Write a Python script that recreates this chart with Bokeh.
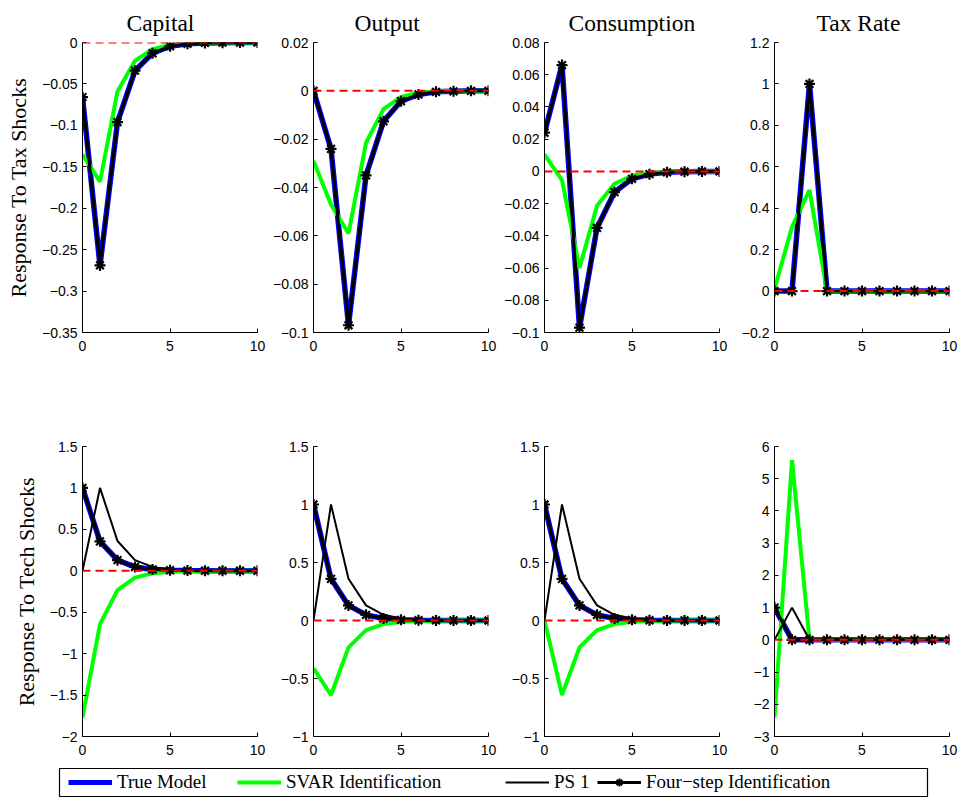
from bokeh.plotting import figure
from bokeh.layouts import column, row
from bokeh.models import FixedTicker, Legend, LegendItem, Range1d, Span
from bokeh.embed import file_html
from bokeh.resources import INLINE

# ---------------- data ----------------
steps = [0, 1, 2, 3, 4, 5, 6, 7, 8, 9, 10]
titles = ["Capital", "Output", "Consumption", "Tax Rate"]
row_labels = ["Response To Tax Shocks", "Response To Tech Shocks"]
legend_labels = ["True Model", "SVAR Identification", "PS 1", "Four\u2212step Identification"]

# Response to tax shocks
tax_capital_true = [-0.066, -0.269, -0.096, -0.034, -0.013, -0.0045, -0.0015, -0.0005, -0.0002, -0.0001, 0.0]
tax_capital_svar = [-0.135, -0.168, -0.059, -0.022, -0.008, -0.003, -0.001, -0.0004, -0.0001, 0.0, 0.0]
tax_capital_ps1 = [-0.066, -0.269, -0.096, -0.034, -0.013, -0.0045, -0.0015, -0.0005, -0.0002, -0.0001, 0.0]
tax_capital_four = [-0.066, -0.269, -0.096, -0.034, -0.013, -0.0045, -0.0015, -0.0005, -0.0002, -0.0001, 0.0]

tax_output_true = [0.0, -0.024, -0.097, -0.035, -0.0126, -0.0043, -0.0015, -0.0004, -0.0002, 0.0, 0.0]
tax_output_svar = [-0.029, -0.047, -0.059, -0.0215, -0.0076, -0.0025, -0.0008, -0.0003, -0.0001, 0.0, 0.0]
tax_output_ps1 = [0.0, -0.024, -0.097, -0.035, -0.0126, -0.0043, -0.0015, -0.0004, -0.0002, 0.0, 0.0]
tax_output_four = [0.0, -0.024, -0.097, -0.035, -0.0126, -0.0043, -0.0015, -0.0004, -0.0002, 0.0, 0.0]

tax_cons_true = [0.024, 0.066, -0.097, -0.035, -0.0129, -0.0046, -0.0017, -0.0006, -0.0002, 0.0, 0.0]
tax_cons_svar = [0.0105, -0.0054, -0.060, -0.0214, -0.0077, -0.0027, -0.001, -0.0003, -0.0001, 0.0, 0.0]
tax_cons_ps1 = [0.024, 0.066, -0.097, -0.035, -0.0129, -0.0046, -0.0017, -0.0006, -0.0002, 0.0, 0.0]
tax_cons_four = [0.024, 0.066, -0.097, -0.035, -0.0129, -0.0046, -0.0017, -0.0006, -0.0002, 0.0, 0.0]

tax_rate_true = [0.0, 0.0, 1.0, 0.0, 0.0, 0.0, 0.0, 0.0, 0.0, 0.0, 0.0]
tax_rate_svar = [0.01, 0.31, 0.487, 0.0, 0.0, 0.0, 0.0, 0.0, 0.0, 0.0, 0.0]
tax_rate_ps1 = [0.0, 0.0, 1.0, 0.0, 0.0, 0.0, 0.0, 0.0, 0.0, 0.0, 0.0]
tax_rate_four = [0.0, 0.0, 1.0, 0.0, 0.0, 0.0, 0.0, 0.0, 0.0, 0.0, 0.0]

# Response to tech shocks
tech_capital_true = [1.0, 0.355, 0.128, 0.046, 0.016, 0.006, 0.002, 0.0007, 0.0003, 0.0001, 0.0]
tech_capital_svar = [-1.768, -0.644, -0.234, -0.082, -0.03, -0.011, -0.004, -0.0015, -0.0005, -0.0002, 0.0]
tech_capital_ps1 = [0.0, 1.0, 0.36, 0.128, 0.047, 0.017, 0.006, 0.002, 0.0007, 0.0003, 0.0001]
tech_capital_four = [1.0, 0.355, 0.128, 0.046, 0.016, 0.006, 0.002, 0.0007, 0.0003, 0.0001, 0.0]

tech_output_true = [1.0, 0.359, 0.13, 0.049, 0.017, 0.006, 0.002, 0.0007, 0.0003, 0.0001, 0.0]
tech_output_svar = [-0.412, -0.642, -0.232, -0.083, -0.031, -0.011, -0.004, -0.0015, -0.0005, -0.0002, 0.0]
tech_output_ps1 = [0.0, 1.0, 0.36, 0.13, 0.049, 0.017, 0.006, 0.002, 0.0007, 0.0003, 0.0001]
tech_output_four = [1.0, 0.359, 0.13, 0.049, 0.017, 0.006, 0.002, 0.0007, 0.0003, 0.0001, 0.0]

tech_cons_true = [1.0, 0.359, 0.13, 0.049, 0.017, 0.006, 0.002, 0.0007, 0.0003, 0.0001, 0.0]
tech_cons_svar = [0.0, -0.642, -0.232, -0.083, -0.031, -0.011, -0.004, -0.0015, -0.0005, -0.0002, 0.0]
tech_cons_ps1 = [0.0, 1.0, 0.36, 0.13, 0.049, 0.017, 0.006, 0.002, 0.0007, 0.0003, 0.0001]
tech_cons_four = [1.0, 0.359, 0.13, 0.049, 0.017, 0.006, 0.002, 0.0007, 0.0003, 0.0001, 0.0]

tech_rate_true = [1.0, 0.0, 0.0, 0.0, 0.0, 0.0, 0.0, 0.0, 0.0, 0.0, 0.0]
tech_rate_svar = [-2.41, 5.58, 0.0, 0.0, 0.0, 0.0, 0.0, 0.0, 0.0, 0.0, 0.0]
tech_rate_ps1 = [0.0, 1.0, 0.0, 0.0, 0.0, 0.0, 0.0, 0.0, 0.0, 0.0, 0.0]
tech_rate_four = [1.0, 0.0, 0.0, 0.0, 0.0, 0.0, 0.0, 0.0, 0.0, 0.0, 0.0]

# y tick values and labels per panel
yt_tax_capital = [-0.35, -0.3, -0.25, -0.2, -0.15, -0.1, -0.05, 0.0]
yl_tax_capital = ["\u22120.35", "\u22120.3", "\u22120.25", "\u22120.2", "\u22120.15", "\u22120.1", "\u22120.05", "0"]
yt_tax_output = [-0.1, -0.08, -0.06, -0.04, -0.02, 0.0, 0.02]
yl_tax_output = ["\u22120.1", "\u22120.08", "\u22120.06", "\u22120.04", "\u22120.02", "0", "0.02"]
yt_tax_cons = [-0.1, -0.08, -0.06, -0.04, -0.02, 0.0, 0.02, 0.04, 0.06, 0.08]
yl_tax_cons = ["\u22120.1", "\u22120.08", "\u22120.06", "\u22120.04", "\u22120.02", "0", "0.02", "0.04", "0.06", "0.08"]
yt_tax_rate = [-0.2, 0.0, 0.2, 0.4, 0.6, 0.8, 1.0, 1.2]
yl_tax_rate = ["\u22120.2", "0", "0.2", "0.4", "0.6", "0.8", "1", "1.2"]
yt_tech_capital = [-2.0, -1.5, -1.0, -0.5, 0.0, 0.5, 1.0, 1.5]
yl_tech_capital = ["\u22122", "\u22121.5", "\u22121", "\u22120.5", "0", "0.5", "1", "1.5"]
yt_tech_output = [-1.0, -0.5, 0.0, 0.5, 1.0, 1.5]
yl_tech_output = ["\u22121", "\u22120.5", "0", "0.5", "1", "1.5"]
yt_tech_cons = [-1.0, -0.5, 0.0, 0.5, 1.0, 1.5]
yl_tech_cons = ["\u22121", "\u22120.5", "0", "0.5", "1", "1.5"]
yt_tech_rate = [-3.0, -2.0, -1.0, 0.0, 1.0, 2.0, 3.0, 4.0, 5.0, 6.0]
yl_tech_rate = ["\u22123", "\u22122", "\u22121", "0", "1", "2", "3", "4", "5", "6"]
xt = [0, 5, 10]

panels = [
    [
        (tax_capital_true, tax_capital_svar, tax_capital_ps1, tax_capital_four, yt_tax_capital, yl_tax_capital),
        (tax_output_true, tax_output_svar, tax_output_ps1, tax_output_four, yt_tax_output, yl_tax_output),
        (tax_cons_true, tax_cons_svar, tax_cons_ps1, tax_cons_four, yt_tax_cons, yl_tax_cons),
        (tax_rate_true, tax_rate_svar, tax_rate_ps1, tax_rate_four, yt_tax_rate, yl_tax_rate),
    ],
    [
        (tech_capital_true, tech_capital_svar, tech_capital_ps1, tech_capital_four, yt_tech_capital, yl_tech_capital),
        (tech_output_true, tech_output_svar, tech_output_ps1, tech_output_four, yt_tech_output, yl_tech_output),
        (tech_cons_true, tech_cons_svar, tech_cons_ps1, tech_cons_four, yt_tech_cons, yl_tech_cons),
        (tech_rate_true, tech_rate_svar, tech_rate_ps1, tech_rate_four, yt_tech_rate, yl_tech_rate),
    ],
]

# ---------------- style ----------------
BLUE = "#0000ff"
GREEN = "#00ff00"
SERIF = "Liberation Serif"
SANS = "Liberation Sans"
FW, FH = 175, 290
LEFT_B = [82, 46, 46, 46]
RIGHT_B = [10, 10, 9, 8]
TITLE_OFFSET = [44, 41, 24, 42]


def make_panel(r, c, data):
    true_v, svar_v, ps1_v, four_v, yt, yl = data
    kw = dict(
        frame_width=FW, frame_height=FH,
        min_border_left=LEFT_B[c], min_border_right=RIGHT_B[c],
        min_border_top=42 if r == 0 else 84,
        min_border_bottom=30 if r == 0 else 28,
        x_range=Range1d(0, 10), y_range=Range1d(yt[0], yt[-1]),
        output_backend="svg", toolbar_location=None,
    )
    if r == 0:
        kw["title"] = titles[c]
    p = figure(**kw)
    p.background_fill_color = "white"
    p.border_fill_color = "white"
    p.outline_line_color = None
    p.grid.visible = False
    if r == 0:
        p.title.text_font = SERIF
        p.title.text_font_size = "23.5px"
        p.title.text_font_style = "normal"
        p.title.align = "left"
        p.title.offset = TITLE_OFFSET[c]
        p.title.text_color = "black"
        p.title.standoff = 14

    p.xaxis.ticker = FixedTicker(ticks=xt)
    p.yaxis.ticker = FixedTicker(ticks=yt)
    p.yaxis.major_label_overrides = {t: lab for t, lab in zip(yt, yl)}
    for ax in (p.xaxis, p.yaxis):
        ax.axis_line_color = "black"
        ax.major_tick_line_color = "black"
        ax.major_tick_in = 4
        ax.major_tick_out = 0
        ax.minor_tick_line_color = None
        ax.major_label_text_font = SANS
        ax.major_label_text_font_size = "14px"
        ax.major_label_text_color = "black"
    p.yaxis.major_label_standoff = 5
    p.xaxis.major_label_standoff = 8
    if c == 0:
        p.yaxis.axis_label = row_labels[r]
        p.yaxis.axis_label_text_font = SERIF
        p.yaxis.axis_label_text_font_size = "22px"
        p.yaxis.axis_label_text_font_style = "normal"
        p.yaxis.axis_label_text_color = "black"
        p.yaxis.axis_label_standoff = 8

    p.line(steps, true_v, line_color=BLUE, line_width=5.5)
    p.line(steps, svar_v, line_color=GREEN, line_width=4)
    p.line(steps, ps1_v, line_color="black", line_width=2)
    p.line(steps, four_v, line_color="black", line_width=3)
    p.scatter(steps, four_v, marker="asterisk", size=11, line_color="black", line_width=2.2)
    p.add_layout(Span(location=0, dimension="width", line_color="red", line_width=2, line_dash="8 5"))
    return p


rows = []
for r in range(2):
    rows.append(row(*[make_panel(r, c, panels[r][c]) for c in range(4)], spacing=0))

# ---------------- legend ----------------
leg = figure(frame_width=868, frame_height=29, min_border_left=59, min_border_right=30,
             min_border_top=4, min_border_bottom=0,
             x_range=Range1d(0, 1), y_range=Range1d(0, 1),
             x_axis_type=None, y_axis_type=None,
             output_backend="svg", toolbar_location=None)
leg.grid.visible = False
leg.outline_line_color = "black"
leg.outline_line_width = 1.2
leg.background_fill_color = "white"
leg.border_fill_color = "white"

nan = float("nan")
r_true = leg.line([nan], [nan], line_color=BLUE, line_width=5)
r_svar = leg.line([nan], [nan], line_color=GREEN, line_width=4)
r_ps1 = leg.line([nan], [nan], line_color="black", line_width=2)
r_four = leg.line([nan], [nan], line_color="black", line_width=3)
r_four_m = leg.scatter([nan], [nan], marker="asterisk", size=8, line_color="black", line_width=2)

legend_renderers = [[r_true], [r_svar], [r_ps1], [r_four, r_four_m]]
legend_x = [9, 178, 446, 538]
for lab, rends, lx in zip(legend_labels, legend_renderers, legend_x):
    lg = Legend(items=[LegendItem(label=lab, renderers=rends)], location=(lx, 4),
                orientation="horizontal", glyph_width=44, glyph_height=20,
                label_height=20, label_standoff=5, padding=0, margin=0, spacing=0,
                border_line_color=None, background_fill_alpha=0,
                label_text_font=SERIF, label_text_font_size="19px",
                label_text_color="black")
    leg.add_layout(lg)

layout = column(rows[0], rows[1], leg, spacing=0)

open("out.html", "w").write(file_html(layout, INLINE, "Impulse responses"))
